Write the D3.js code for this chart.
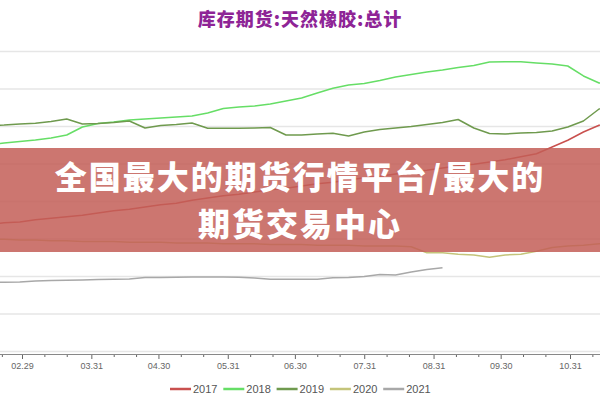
<!DOCTYPE html>
<html><head><meta charset="utf-8">
<script src="https://cdn.jsdelivr.net/npm/d3@7/dist/d3.min.js"></script>
<style>body{margin:0;background:#fff}svg{display:block}</style>
</head><body><svg id="c" width="600" height="400"></svg>
<script>
// ---- data (units: 万吨) ----
const dates = ["02.14","02.21","02.28","03.06","03.13","03.20","03.27","04.03","04.10","04.17",
  "04.24","05.01","05.08","05.15","05.22","05.29","06.05","06.12","06.19","06.26",
  "07.03","07.10","07.17","07.24","07.31","08.07","08.14","08.21","08.28","09.04",
  "09.11","09.18","09.25","10.02","10.09","10.16","10.23","10.30","11.06","11.13","11.20"];
const seriesNames = ["2017","2018","2019","2020","2021"];
const v2017 = [26.9,27.1,27.2,27.5,27.7,27.9,28.1,28.4,28.7,28.9,
  29.2,29.5,29.7,30.1,30.4,30.7,30.9,31.2,31.5,31.7,
  32.0,32.3,32.5,32.8,33.1,33.3,33.6,33.9,34.1,34.4,
  34.7,34.9,35.2,35.5,35.9,36.3,37.2,38.1,39.2,40.1,40.7];
const v2018 = [37.47,37.73,37.93,38.13,38.40,38.80,39.87,40.33,40.53,40.80,
  40.93,41.07,41.20,41.33,41.73,42.33,42.53,42.67,42.93,43.33,
  43.73,44.40,45.03,45.47,45.67,46.07,46.53,46.87,47.20,47.47,
  47.80,48.07,48.53,48.57,48.57,48.40,48.27,48.00,46.67,45.73,45.60];
const v2019 = [40.07,40.13,40.27,40.36,40.60,40.93,40.27,40.33,40.47,40.67,
  39.73,40.07,40.20,40.40,39.69,39.69,39.69,39.73,39.80,38.80,
  38.80,38.93,39.03,38.67,39.20,39.53,39.73,39.93,40.20,40.47,
  40.87,39.73,39.00,38.93,39.07,39.13,39.33,39.87,40.67,42.27,42.67];
const v2020 = [24.9,24.9,24.8,24.8,24.7,24.7,24.6,24.6,24.6,24.5,
  24.5,24.5,24.4,24.4,24.4,24.3,24.3,24.3,24.2,24.2,
  24.2,24.1,24.1,24.1,24.0,24.0,24.0,23.9,23.1,23.1,
  22.9,22.8,22.5,22.8,22.9,23.3,23.8,24.0,24.1,24.3,24.3];
const v2021 = [19.13,19.16,19.20,19.33,19.40,19.43,19.47,19.53,19.56,19.60,
  19.80,19.80,19.83,19.87,19.87,19.87,19.83,19.73,19.56,19.56,
  19.56,19.56,19.77,19.80,19.93,20.20,20.13,20.53,20.87,21.10,
  null,null,null,null,null,null,null,null,null,null,null];
const seriesValues = [v2017, v2018, v2019, v2020, v2021];
const seriesColors = ["#c9504e","#66de66","#6f9a4e","#c4c47a","#a8a8a8"];
const majorTicks = ["02.29","03.31","04.30","05.31","06.30","07.31","08.31","09.30","10.31"];
const minorTicks = ["02.20","03.10","03.20","04.10","04.20","05.10","05.20","06.10","06.20",
  "07.10","07.20","08.10","08.20","09.10","09.20","10.10","10.20","11.10"];
const yTicks = [10,15,20,25,30,35,40,45,50];
const title = "库存期货:天然橡胶:总计";
const bannerLines = ["全国最大的期货行情平台/最大的","期货交易中心"];

// ---- drawing ----
const svg = d3.select("#c");
const W = 600, H = 400;
const parse = s => { const [m,d] = s.split(".").map(Number); return new Date(2020, m-1, d); };
const x = d3.scaleTime().domain([parse("02.29"), parse("10.31")]).range([22, 570]);
const y = d3.scaleLinear().domain([10, 50]).range([351, 51]);

svg.append("rect").attr("width", W).attr("height", H).attr("fill", "#fff");

// gridlines
const grid = svg.append("g").call(d3.axisLeft(y).tickValues(yTicks).tickSize(-W).tickFormat(""));
grid.select(".domain").remove();
grid.selectAll(".tick line").attr("stroke", "#e6e6e6").attr("stroke-width", 1.5);

// series lines
const line = d3.line()
  .defined(d => d.v != null)
  .x(d => x(parse(d.date)))
  .y(d => y(d.v));
seriesNames.forEach((name, i) => {
  const data = dates.map((dt, j) => ({date: dt, v: seriesValues[i][j]}));
  svg.append("path").datum(data)
    .attr("fill", "none").attr("stroke", seriesColors[i]).attr("stroke-width", 1.5)
    .attr("stroke-linejoin", "round")
    .attr("d", line);
});

// x axis
const axisY = 354;
const xMajor = svg.append("g").attr("transform", `translate(0,${axisY})`)
  .call(d3.axisBottom(x).tickValues(majorTicks.map(parse)).tickSize(5).tickPadding(4)
    .tickFormat((d, i) => majorTicks[i]));
xMajor.select(".domain").remove();
xMajor.selectAll(".tick line").attr("stroke", "#666");
xMajor.selectAll(".tick text").attr("fill", "#666").attr("font-size", "9px")
  .attr("font-family", "Liberation Sans, Arial, sans-serif");
const xMinor = svg.append("g").attr("transform", `translate(0,${axisY})`)
  .call(d3.axisBottom(x).tickValues(minorTicks.map(parse)).tickSize(3).tickFormat(""));
xMinor.select(".domain").remove();
xMinor.selectAll(".tick line").attr("stroke", "#666");
svg.append("line").attr("x1", 0).attr("x2", W).attr("y1", axisY + 0.5).attr("y2", axisY + 0.5)
  .attr("stroke", "#888").attr("stroke-width", 1);

// banner
svg.append("rect").attr("x", 0).attr("y", 148).attr("width", W).attr("height", 104)
  .attr("fill", "rgb(195,94,87)").attr("fill-opacity", 0.85);
svg.append("g").selectAll("text").data(bannerLines).join("text")
  .attr("x", W / 2).attr("y", (d, i) => 189 + i * 47)
  .attr("text-anchor", "middle").attr("fill", "#fff")
  .attr("font-family", "Noto Sans CJK SC, sans-serif").attr("font-weight", 900)
  .attr("font-size", "32px").attr("letter-spacing", "2px").text(d => d);

// title
svg.append("text").attr("x", W / 2).attr("y", 26).attr("text-anchor", "middle")
  .attr("fill", "#8e2496").attr("font-family", "Noto Sans CJK SC, sans-serif")
  .attr("font-weight", 900).attr("font-size", "18px").attr("letter-spacing", "1px")
  .text(title);

// legend
const legend = svg.append("g").attr("transform", "translate(170,389)");
const item = legend.selectAll("g").data(seriesNames).join("g")
  .attr("transform", (d, i) => `translate(${i * 53.3},0)`);
item.append("line").attr("x1", 0).attr("x2", 21).attr("y1", 0).attr("y2", 0)
  .attr("stroke", (d, i) => seriesColors[i]).attr("stroke-width", 2.5);
item.append("text").attr("x", 23).attr("y", 4).attr("fill", "#555")
  .attr("font-family", "Liberation Sans, Arial, sans-serif").attr("font-size", "11px")
  .text(d => d);
</script></body></html>
